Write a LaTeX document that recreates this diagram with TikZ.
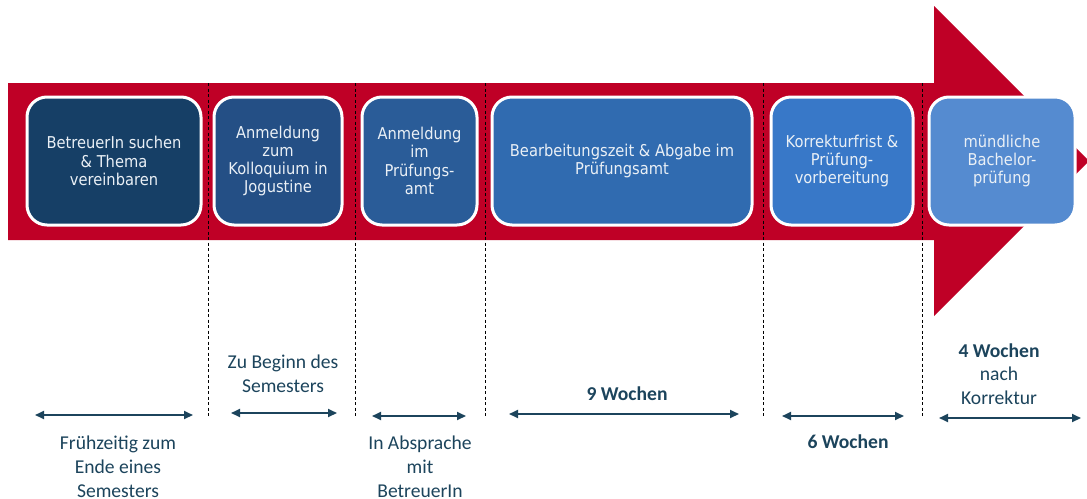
\documentclass[tikz,border=0pt]{standalone}
\usepackage{fontspec}
\setmainfont{Carlito}
\newfontfamily\boxfont[FakeStretch=0.9]{DejaVu Sans}
\usetikzlibrary{arrows.meta}
\definecolor{bandred}{RGB}{191,0,38}
\definecolor{cA}{RGB}{22,63,102}
\definecolor{cB}{RGB}{36,79,133}
\definecolor{cC}{RGB}{42,92,152}
\definecolor{cD}{RGB}{48,107,176}
\definecolor{cE}{RGB}{56,120,200}
\definecolor{cF}{RGB}{85,139,208}
\definecolor{boxtext}{RGB}{234,240,246}
\definecolor{labtext}{RGB}{28,68,92}
\tikzset{
  phase/.style={draw=white, line width=3pt, rounded corners=20pt, minimum height=128pt,
    text=boxtext, align=center, inner sep=2pt,
    font=\boxfont\fontsize{16.3}{18.3}\selectfont},
  lab/.style={text=labtext, align=center, inner sep=0pt,
    font=\fontsize{19.6}{23.8}\selectfont},
  span/.style={draw=labtext, line width=2pt, {Triangle[length=9pt,width=8pt]}-{Triangle[length=9pt,width=8pt]}},
  sep/.style={draw=black, line width=0.8pt, dash pattern=on 3pt off 2.5pt}
}
\begin{document}
\begin{tikzpicture}[x=1pt,y=-1pt]
\clip (0,0) rectangle (1087,498);
\fill[white] (0,0) rectangle (1087,498);
% big arrow
\fill[bandred] (8,83) -- (934,83) -- (934,6) -- (1089,161) -- (934,316) -- (934,240) -- (8,240) -- cycle;
% separators
\foreach \x/\n in {208/a,355/b,485/c,763/d,922/e}{
  \coordinate (t\n) at (\x,83);
  \coordinate (u\n) at (\x,416);
  \draw[sep] (t\n) -- (u\n);
}
% phase boxes
\node[phase, fill=cA, minimum width=174pt] (p1) at (114,161) {BetreuerIn suchen\\\& Thema\\vereinbaren};
\node[phase, fill=cB, minimum width=128pt] (p2) at (278,161) {Anmeldung\\zum\\Kolloquium in\\Jogustine};
\node[phase, fill=cC, minimum width=115pt] (p3) at (419.5,161) {Anmeldung\\im\\Prüfungs-\\amt};
\node[phase, fill=cD, minimum width=260pt] (p4) at (622,161) {Bearbeitungszeit \& Abgabe im\\Prüfungsamt};
\node[phase, fill=cE, minimum width=142pt] (p5) at (842,161) {Korrekturfrist \&\\Prüfung-\\vorbereitung};
\node[phase, fill=cF, minimum width=146pt] (p6) at (1002,161) {mündliche\\Bachelor-\\prüfung};
% spans
\coordinate (s1a) at (35,415);  \coordinate (s1b) at (193,415);
\coordinate (s2a) at (231,413); \coordinate (s2b) at (337,413);
\coordinate (s3a) at (372,416); \coordinate (s3b) at (466,416);
\coordinate (s4a) at (509,414); \coordinate (s4b) at (739,414);
\coordinate (s5a) at (782,416); \coordinate (s5b) at (904,416);
\coordinate (s6a) at (939,418); \coordinate (s6b) at (1081,418);
\draw[span] (s1a) -- (s1b);
\draw[span] (s2a) -- (s2b);
\draw[span] (s3a) -- (s3b);
\draw[span] (s4a) -- (s4b);
\draw[span] (s5a) -- (s5b);
\draw[span] (s6a) -- (s6b);
% labels
\node[lab] (l1) at (118,467) {Frühzeitig zum\\Ende eines\\Semesters};
\node[lab] (l2) at (283,374) {Zu Beginn des\\Semesters};
\node[lab] (l3) at (420,467) {In Absprache\\mit\\BetreuerIn};
\node[lab, font=\bfseries\fontsize{19.6}{23.8}\selectfont] (l4) at (627,394) {9 Wochen};
\node[lab, font=\bfseries\fontsize{19.6}{23.8}\selectfont] (l5) at (848,442) {6 Wochen};
\node[lab] (l6) at (999,374) {\textbf{4 Wochen}\\nach\\Korrektur};
\end{tikzpicture}
\end{document}
